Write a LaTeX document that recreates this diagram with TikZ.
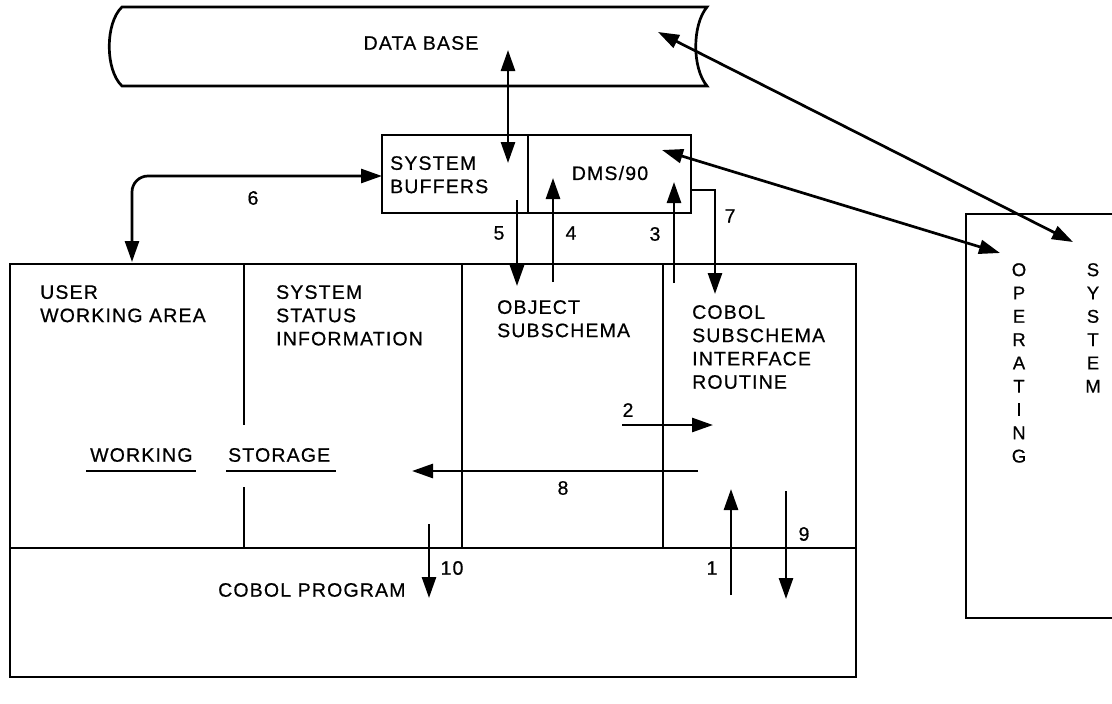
\documentclass[tikz,border=0pt]{standalone}
\usepackage{fontspec}
\setmainfont{Liberation Sans}
\newfontfamily\dfont[LetterSpace=6,FakeBold=0.6]{Liberation Sans}
\usetikzlibrary{arrows.meta}
\tikzset{
  ln/.style={line width=2.7pt},
  arr/.style={line width=2.7pt, -{Triangle[length=21pt,width=14pt]}},
  darr/.style={line width=2.7pt, {Triangle[length=21pt,width=14pt]}-{Triangle[length=21pt,width=14pt]}},
  txt/.style={font=\dfont\fontsize{19.5}{23.3}\selectfont, inner sep=0pt, align=left, anchor=north west},
  num/.style={font=\dfont\fontsize{19.5}{23.3}\selectfont, inner sep=0pt},
  vtxt/.style={font=\dfont\fontsize{18.5}{23.3}\selectfont, inner sep=0pt, align=center, anchor=north},
}
\begin{document}
\begin{tikzpicture}[x=1pt,y=-1pt]
\useasboundingbox (0,0) rectangle (1112,704);
% ---------- DATA BASE ----------
\draw[ln] (122,7) -- (707,7) .. controls (692,25) and (692,68) .. (707,86)
  -- (122,86) .. controls (105,70) and (105,23) .. (122,7) -- cycle;
\node[num] (dbt) at (421,43) {DATA BASE};
% ---------- System buffers / DMS ----------
\draw[ln] (382,135) rectangle (691,213);
\draw[ln] (528,135) -- (528,213);
\node[txt] (sbt) at (390,156) {SYSTEM\\BUFFERS};
\node[num] (dmst) at (610,173) {DMS/90};
% ---------- Main box ----------
\draw[ln] (10,264) rectangle (856,677);
\draw[ln] (10,548) -- (856,548);
\draw[ln] (244,264) -- (244,425);
\draw[ln] (244,487) -- (244,548);
\draw[ln] (462,264) -- (462,548);
\draw[ln] (663,264) -- (663,548);
\node[txt] (uwa) at (40,285) {USER\\WORKING AREA};
\node[txt] (ssi) at (276,285) {SYSTEM\\STATUS\\INFORMATION};
\node[txt] (obj) at (497,300) {OBJECT\\SUBSCHEMA};
\node[txt] (csi) at (692,305) {COBOL\\SUBSCHEMA\\INTERFACE\\ROUTINE};
\node[num, anchor=west] (wk) at (90,455) {WORKING};
\node[num, anchor=west] (st) at (228,455) {STORAGE};
\draw[ln] ([xshift=-4pt]wk.west |- 0,471) -- ([xshift=3pt]wk.east |- 0,471);
\draw[ln] ([xshift=-2pt]st.west |- 0,471) -- ([xshift=6pt]st.east |- 0,471);
\node[num, anchor=west] (cp) at (218,590) {COBOL PROGRAM};
% ---------- Operating system ----------
\draw[ln] (1112,214) -- (966,214) -- (966,618) -- (1112,618);
\node[vtxt] (ost1) at (1019,263) {O\\P\\E\\R\\A\\T\\I\\N\\G};
\node[vtxt] (ost2) at (1093,263) {S\\Y\\S\\T\\E\\M};
% ---------- connector end points ----------
\coordinate (dbA) at (508,50);
\coordinate (dbB) at (508,163);
\coordinate (u6) at (132,262);
\coordinate (b6) at (382,176);
\coordinate (c6) at (132,176);
\coordinate (s5) at (517,200);
\coordinate (e5) at (517,286);
\coordinate (s4) at (553,282);
\coordinate (e4) at (553,178);
\coordinate (s3) at (674,283);
\coordinate (e3) at (674,182);
\coordinate (s7) at (691,190);
\coordinate (m7) at (715,190);
\coordinate (e7) at (715,294);
\coordinate (s2) at (622,425);
\coordinate (e2) at (713,425);
\coordinate (s8) at (698,471);
\coordinate (e8) at (412,471);
\coordinate (s10) at (429,524);
\coordinate (e10) at (429,598);
\coordinate (s1) at (731,595);
\coordinate (e1) at (731,489);
\coordinate (s9) at (786,491);
\coordinate (e9) at (786,599);
\coordinate (osA) at (658,32);
\coordinate (osB) at (1073,242);
\coordinate (osC) at (662,150);
\coordinate (osD) at (1000,253);
% ---------- connectors ----------
\draw[darr] (dbA) -- (dbB);
\draw[darr, rounded corners=16pt] (u6) -- (c6) -- (b6);
\draw[arr] (s5) -- (e5);
\draw[arr] (s4) -- (e4);
\draw[arr] (s3) -- (e3);
\draw[arr] (s7) -- (m7) -- (e7);
\draw[arr] (s2) -- (e2);
\draw[arr] (s8) -- (e8);
\draw[arr] (s10) -- (e10);
\draw[arr] (s1) -- (e1);
\draw[arr] (s9) -- (e9);
\draw[darr] (osA) -- (osB);
\draw[darr] (osC) -- (osD);
% ---------- labels ----------
\node[num] (l6) at (253,198) {6};
\node[num] (l5) at (499,233) {5};
\node[num] (l4) at (571,233) {4};
\node[num] (l3) at (655,234) {3};
\node[num] (l7) at (730,216) {7};
\node[num] (l2) at (628,410) {2};
\node[num] (l8) at (563,488) {8};
\node[num] (l10) at (452,568) {10};
\node[num] (l1) at (712,568) {1};
\node[num] (l9) at (804,534) {9};
\end{tikzpicture}
\end{document}
